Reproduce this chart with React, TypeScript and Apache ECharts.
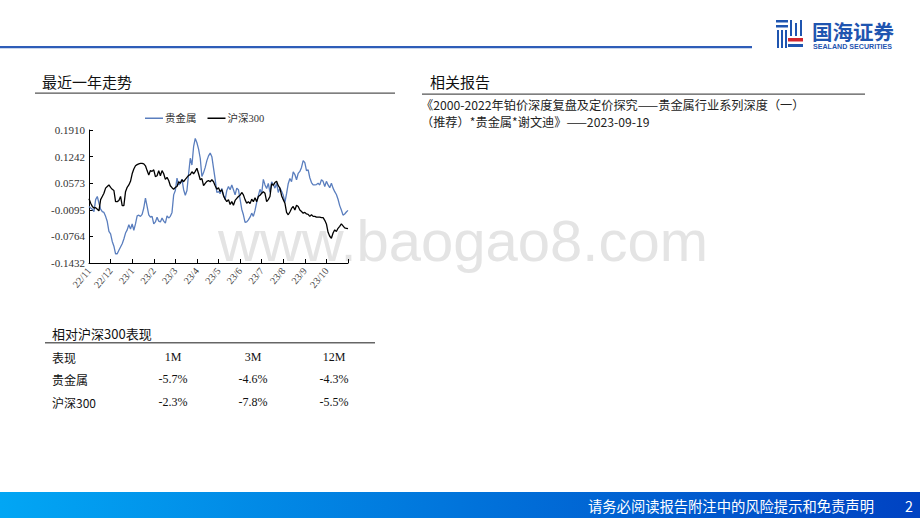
import React, { useEffect, useRef } from "react";
import * as echarts from "echarts";

const monthLabels = ["22/11", "22/12", "23/1", "23/2", "23/3", "23/4", "23/5", "23/6", "23/7", "23/8", "23/9", "23/10"];
const pointsPerMonth = 13;

const yTicks = [-0.1432, -0.0764, -0.0095, 0.0573, 0.1242, 0.191];

const metalValues = [
  -0.001, -0.005, -0.008, -0.014, 0.016, 0.024, 0.007, -0.008, -0.014, -0.016,
  -0.026, -0.039, -0.064, -0.070, -0.089, -0.101, -0.120, -0.120, -0.111, -0.103,
  -0.095, -0.083, -0.068, -0.060, -0.047, -0.058, -0.045, -0.061, -0.045, -0.025,
  -0.023, -0.026, -0.021, -0.005, 0.020, -0.001, -0.022, -0.028, -0.026, -0.045,
  -0.040, -0.028, -0.038, -0.040, -0.030, -0.038, -0.043, -0.025, -0.030, -0.026,
  -0.016, 0.028, 0.039, 0.070, 0.053, 0.057, 0.067, 0.041, 0.027, 0.039,
  0.081, 0.120, 0.103, 0.149, 0.170, 0.159, 0.143, 0.120, 0.074, 0.084,
  0.097, 0.114, 0.126, 0.133, 0.124, 0.095, 0.067, 0.034, 0.036, 0.031,
  0.044, 0.028, 0.016, 0.039, 0.049, 0.041, 0.053, 0.041, 0.028, 0.045,
  0.041, 0.017, -0.008, -0.022, -0.041, -0.040, -0.035, -0.028, -0.018, -0.026,
  -0.011, 0.009, 0.026, 0.042, 0.031, 0.067, 0.053, 0.044, 0.057, 0.034,
  0.061, 0.054, 0.045, 0.057, 0.034, 0.045, 0.037, 0.027, 0.009, 0.031,
  0.056, 0.069, 0.061, 0.086, 0.079, 0.066, 0.082, 0.087, 0.097, 0.114,
  0.109, 0.089, 0.091, 0.071, 0.059, 0.053, 0.053, 0.054, 0.057, 0.053,
  0.066, 0.062, 0.049, 0.062, 0.053, 0.046, 0.057, 0.045, 0.036, 0.029,
  0.017, 0.001, -0.010, -0.023, -0.020, -0.015, -0.011,
];

const hs300Values = [
  0.018, 0.007, -0.001, -0.005, -0.004, -0.008, -0.012, 0.016, 0.024, 0.032,
  0.045, 0.049, 0.053, 0.047, 0.042, 0.039, 0.011, 0.011, 0.014, 0.024,
  0.001, 0.001, 0.036, 0.047, 0.053, 0.062, 0.081, 0.093, 0.101, 0.104,
  0.106, 0.107, 0.107, 0.106, 0.101, 0.089, 0.078, 0.089, 0.087, 0.091,
  0.074, 0.076, 0.089, 0.076, 0.089, 0.081, 0.067, 0.072, 0.064, 0.051,
  0.046, 0.042, 0.047, 0.049, 0.061, 0.057, 0.066, 0.061, 0.067, 0.072,
  0.077, 0.079, 0.086, 0.081, 0.087, 0.095, 0.081, 0.066, 0.069, 0.051,
  0.057, 0.062, 0.064, 0.061, 0.066, 0.061, 0.051, 0.042, 0.046, 0.036,
  0.041, 0.026, 0.017, 0.011, 0.016, 0.004, 0.011, 0.002, 0.014, 0.019,
  0.024, 0.027, 0.034, 0.028, 0.016, 0.007, 0.011, 0.006, 0.017, 0.011,
  0.021, 0.011, 0.024, 0.027, 0.032, 0.036, 0.032, 0.011, 0.016, 0.024,
  0.056, 0.052, 0.059, 0.062, 0.051, 0.045, 0.026, 0.016, 0.007, -0.016,
  -0.022, -0.015, -0.006, -0.001, -0.010, 0.002, -0.001, -0.010, -0.014, -0.018,
  -0.016, -0.020, -0.021, -0.026, -0.022, -0.026, -0.026, -0.028, -0.028, -0.028,
  -0.029, -0.029, -0.036, -0.045, -0.066, -0.076, -0.081, -0.068, -0.060, -0.064,
  -0.056, -0.051, -0.045, -0.050, -0.055, -0.056, -0.057,
];

const seriesNames = ["贵金属", "沪深300"];

const tableTitle = "相对沪深300表现";
const tableHeaders = ["表现", "1M", "3M", "12M"];
const tableRowNames = ["贵金属", "沪深300"];
const tableRowValues = [
  ["-5.7%", "-4.6%", "-4.3%"],
  ["-2.3%", "-7.8%", "-5.5%"],
];

const reportLines = [
  "《2000-2022年铂价深度复盘及定价探究——贵金属行业系列深度（一）",
  "（推荐）*贵金属*谢文迪》——2023-09-19",
];

const SANS = "'Noto Sans CJK SC', 'Noto Sans', sans-serif";
const SERIF = "'Liberation Serif', 'Noto Sans CJK SC', serif";
const BLUE_LINE = "#5A7EBE";

export default function App() {
  const ref = useRef<HTMLDivElement>(null);

  useEffect(() => {
    if (!ref.current) return;
    const chart = echarts.init(ref.current, undefined, { renderer: "svg" });
    const categories = metalValues.map((_, i) => String(i));
    const lastIdx = categories.length - 1;

    const colX = [52, 173, 253, 334];
    const rowY = [357, 379, 402];

    const tableGraphics: any[] = [];
    tableHeaders.forEach((h, c) => {
      tableGraphics.push({
        type: "text",
        x: colX[c],
        y: rowY[0],
        style: {
          text: h,
          fontSize: 12,
          fontFamily: c === 0 ? SANS : SERIF,
          fill: "#111",
          align: c === 0 ? "left" : "center",
          verticalAlign: "middle",
        },
      });
    });
    tableRowNames.forEach((name, r) => {
      tableGraphics.push({
        type: "text",
        x: colX[0],
        y: rowY[r + 1],
        style: { text: name, fontSize: 12, fontFamily: SANS, fill: "#111", align: "left", verticalAlign: "middle" },
      });
      tableRowValues[r].forEach((v, c) => {
        tableGraphics.push({
          type: "text",
          x: colX[c + 1],
          y: rowY[r + 1],
          style: { text: v, fontSize: 12, fontFamily: SERIF, fill: "#111", align: "center", verticalAlign: "middle" },
        });
      });
    });

    const logoBlue = "#1F55B0";
    const logoGraphics: any[] = [
      { type: "rect", shape: { x: 776, y: 20, width: 12, height: 2.5 }, style: { fill: logoBlue } },
      { type: "rect", shape: { x: 776, y: 25, width: 12, height: 2.5 }, style: { fill: logoBlue } },
      { type: "rect", shape: { x: 777, y: 30, width: 2, height: 18 }, style: { fill: logoBlue } },
      { type: "rect", shape: { x: 781, y: 30, width: 2, height: 18 }, style: { fill: logoBlue } },
      { type: "rect", shape: { x: 785, y: 30, width: 2, height: 18 }, style: { fill: logoBlue } },
      { type: "rect", shape: { x: 790, y: 20, width: 2, height: 16 }, style: { fill: logoBlue } },
      { type: "rect", shape: { x: 795, y: 23, width: 2, height: 13 }, style: { fill: logoBlue } },
      { type: "rect", shape: { x: 800, y: 20, width: 2, height: 16 }, style: { fill: logoBlue } },
      { type: "rect", shape: { x: 788, y: 38, width: 15, height: 3.5 }, style: { fill: "#D2252D" } },
      { type: "rect", shape: { x: 788, y: 44, width: 15, height: 3 }, style: { fill: logoBlue } },
      {
        type: "text",
        x: 812,
        y: 31,
        style: { text: "国海证券", fontSize: 20.5, fontWeight: "bold", fontFamily: SANS, fill: logoBlue, verticalAlign: "middle" },
      },
      {
        type: "text",
        x: 813,
        y: 46,
        scaleX: 0.95,
        style: { text: "SEALAND SECURITIES", fontSize: 7.5, fontWeight: "bold", fontFamily: "'Liberation Sans', sans-serif", fill: logoBlue, verticalAlign: "middle" },
      },
    ];

    const option: any = {
      animation: false,
      backgroundColor: "#ffffff",
      grid: { left: 89, top: 130, width: 259, height: 133, containLabel: false },
      legend: {
        left: 140,
        top: 108,
        icon: "rect",
        itemWidth: 18,
        itemHeight: 1.5,
        itemGap: 11,
        textStyle: { fontSize: 10.5, fontFamily: SERIF, color: "#333", padding: [0, 0, 0, -3] },
        data: seriesNames,
      },
      xAxis: {
        type: "category",
        data: categories,
        boundaryGap: false,
        axisLine: { onZero: false, lineStyle: { color: "#000", width: 1 } },
        axisTick: {
          inside: true,
          length: 4,
          interval: (i: number) => i % pointsPerMonth === 0,
          lineStyle: { color: "#000" },
        },
        axisLabel: {
          interval: (i: number) => i % pointsPerMonth === 0 && i < lastIdx,
          rotate: 50,
          margin: 6,
          fontSize: 10,
          fontFamily: SERIF,
          color: "#444",
          formatter: (_v: string, i: number) => monthLabels[Math.round(i / pointsPerMonth)] || "",
        },
        splitLine: { show: false },
      },
      yAxis: {
        type: "value",
        min: yTicks[0],
        max: yTicks[yTicks.length - 1],
        axisLine: { show: true, onZero: false, lineStyle: { color: "#000", width: 1 } },
        axisTick: { show: true, inside: true, length: 4, customValues: yTicks, lineStyle: { color: "#000" } },
        axisLabel: {
          customValues: yTicks,
          margin: 4,
          fontSize: 11,
          fontFamily: SERIF,
          color: "#333",
          formatter: (v: number) => v.toFixed(4),
        },
        splitLine: { show: false },
      },
      series: [
        {
          name: seriesNames[0],
          type: "line",
          data: metalValues,
          symbol: "none",
          lineStyle: { color: BLUE_LINE, width: 1.3 },
          itemStyle: { color: BLUE_LINE },
          z: 3,
        },
        {
          name: seriesNames[1],
          type: "line",
          data: hs300Values,
          symbol: "none",
          lineStyle: { color: "#000", width: 1.3 },
          itemStyle: { color: "#000" },
          z: 4,
        },
      ],
      graphic: [
        {
          type: "text",
          x: 218,
          y: 240,
          z: -1,
          silent: true,
          style: {
            text: "www.baogao8.com",
            fontSize: 58,
            fontFamily: "'Liberation Sans', Arial, sans-serif",
            fill: "#E4E4E4",
            verticalAlign: "middle",
          },
        },
        { type: "rect", shape: { x: 0, y: 46, width: 752, height: 2.2 }, style: { fill: "#2E5DB8" } },
        ...logoGraphics,
        {
          type: "text",
          x: 42,
          y: 81,
          style: { text: "最近一年走势", fontSize: 15, fontFamily: SANS, fill: "#111", verticalAlign: "middle" },
        },
        { type: "rect", shape: { x: 35, y: 92.5, width: 360, height: 1.3 }, style: { fill: "#555" } },
        {
          type: "text",
          x: 430,
          y: 81,
          style: { text: "相关报告", fontSize: 15, fontFamily: SANS, fill: "#111", verticalAlign: "middle" },
        },
        { type: "rect", shape: { x: 422, y: 93.5, width: 443, height: 1.3 }, style: { fill: "#555" } },
        ...reportLines.map((t, i) => ({
          type: "text",
          x: 421,
          y: 105 + i * 17,
          style: { text: t, fontSize: 12.2, fontFamily: SANS, fill: "#222", verticalAlign: "middle" },
        })),
        {
          type: "text",
          x: 52,
          y: 333,
          style: { text: tableTitle, fontSize: 13, fontFamily: SANS, fill: "#111", verticalAlign: "middle" },
        },
        { type: "rect", shape: { x: 45, y: 342, width: 330, height: 1.6 }, style: { fill: "#666" } },
        ...tableGraphics,
        {
          type: "rect",
          shape: { x: 0, y: 492, width: 920, height: 26 },
          style: {
            fill: {
              type: "linear",
              x: 0,
              y: 0,
              x2: 1,
              y2: 0,
              colorStops: [
                { offset: 0, color: "#02A6F4" },
                { offset: 1, color: "#0042C2" },
              ],
            },
          },
        },
        {
          type: "text",
          x: 588,
          y: 505,
          style: { text: "请务必阅读报告附注中的风险提示和免责声明", fontSize: 14.3, fontFamily: SANS, fill: "#fff", verticalAlign: "middle" },
        },
        {
          type: "text",
          x: 905,
          y: 505,
          style: { text: "2", fontSize: 14.3, fontFamily: SANS, fill: "#fff", verticalAlign: "middle" },
        },
      ],
    };

    chart.setOption(option);
    return () => chart.dispose();
  }, []);

  return (
    <div
      ref={ref}
      style={{ position: "absolute", left: 0, top: 0, width: 920, height: 518, background: "#fff" }}
    />
  );
}
